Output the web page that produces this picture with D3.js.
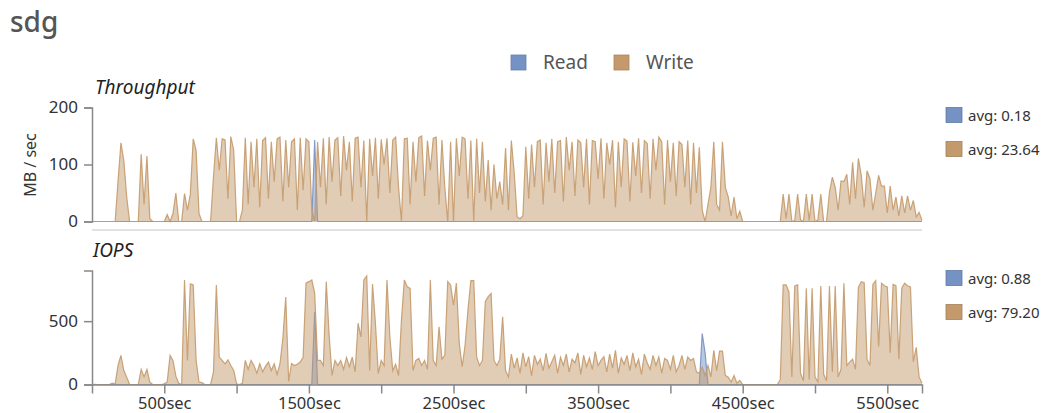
<!DOCTYPE html>
<html>
<head>
<meta charset="utf-8">
<script src="https://cdnjs.cloudflare.com/ajax/libs/d3/7.8.5/d3.min.js"></script>
<style>
	body { margin: 0; background: #fff; font-family: 'Noto Sans', sans-serif; }
	.tick text { fill: #333; }
	.tick line, .domain { stroke: #888; stroke-width: 1.5; }
</style>
</head>
<body>
<div class="chart"></div>
<script>
// one sample every 20 seconds, starting at 0sec
const sampleStep = 20

const writeThroughput = [
	0,0,0,0,0,0,0,0,0,
	70,138,107,43,0,
	0,0,0,
	118,30,115,5,
	0,0,0,0,0,
	12,0,14,50,0,0,
	49,20,48,145,125,14,0,
	0,0,0,
	78,147,90,145,143,40,149,125,0,0,
	20,
	147,30,140,60,145,25,142,147,40,140,
	70,145,148,35,143,60,140,145,20,147,
	55,145,140,20,0,140,60,146,30,148,
	70,143,147,45,150,90,140,35,146,148,
	60,142,0,145,80,147,40,144,100,146,
	50,143,148,60,0,145,146,30,140,70,
	147,150,45,142,90,146,148,30,143,60,
	0,140,0,146,80,148,145,40,142,0,
	145,50,140,35,108,20,100,40,70,30,
	129,20,142,85,8,5,10,131,40,135,
	60,140,143,30,138,70,145,50,140,142,
	35,148,90,140,45,143,138,60,145,30,
	142,140,75,146,40,138,100,143,25,140,
	60,145,141,35,139,80,146,50,142,137,
	40,145,90,148,140,30,143,70,138,45,
	140,135,60,142,30,138,50,130,20,0,
	30,60,140,30,20,140,60,43,10,43,5,18,
	0,0,0,0,0,0,0,0,0,0,0,0,0,
	0,48,5,48,0,2,48,3,0,48,2,48,0,3,48,0,0,
	51,78,60,20,71,70,83,30,104,40,111,81,25,89,75,20,50,
	81,62,62,15,62,20,43,10,45,15,45,20,37,8,16,2
]

const writeIops = [
	0,2,0,0,0,0,0,10,3,
	150,230,110,58,0,0,0,0,
	119,60,119,18,0,0,0,0,
	5,20,230,190,66,10,0,
	825,190,794,786,190,20,15,0,0,0,
	98,786,217,190,163,195,150,110,5,0,10,
	190,120,190,150,90,164,100,143,177,110,164,80,164,
	365,690,24,166,150,160,177,214,800,812,825,722,
	190,190,150,812,388,71,190,150,190,120,214,140,217,100,
	484,375,825,857,110,794,484,87,190,150,825,375,110,160,71,
	508,825,772,759,110,190,206,150,190,120,825,190,150,455,200,230,
	812,786,627,800,325,140,310,587,820,820,217,150,190,653,693,719,190,150,200,534,110,60,
	240,130,210,90,250,140,220,70,230,160,
	200,110,246,130,180,230,90,215,150,240,
	100,200,170,250,80,230,140,210,120,260,
	150,190,220,100,240,130,270,90,210,160,
	230,110,250,140,200,80,240,170,120,230,
	150,217,90,206,190,120,230,100,
	150,230,120,217,190,206,100,87,138,71,150,60,270,110,264,264,71,58,20,71,10,32,
	0,0,0,0,0,0,0,0,0,0,0,0,0,
	40,786,786,732,60,778,786,90,30,759,
	40,759,60,20,778,80,30,778,100,778,
	60,120,800,150,177,200,120,767,812,804,
	200,150,790,820,300,800,780,770,250,790,
	780,200,760,800,780,770,180,294,60,10
]

// read is idle almost all the time: [second, value]
const readThroughput = [[0, 0], [1520, 0], [1540, 143], [1560, 0], [5740, 0]]
const readIops = [[0, 0], [1520, 0], [1540, 575], [1560, 0], [4200, 0], [4220, 402], [4240, 250], [4260, 0], [5740, 0]]

const seriesNames = ['Read', 'Write']
const seriesColors = ['#7592c4', '#c49a6c']
const throughputAvg = ['avg: 0.18', 'avg: 23.64']
const iopsAvg = ['avg: 0.88', 'avg: 79.20']
const xTicks = [500, 1000, 1500, 2000, 2500, 3000, 3500, 4000, 4500, 5000, 5500]
const throughputTicks = [0, 100, 200]
const iopsTicks = [0, 500]

const width = 1048
const height = 413

const svg = d3.select('.chart')
	.append('svg')
	.attr('width', width)
	.attr('height', height)

const xScale = d3.scaleLinear()
	.domain([0, 5740])
	.range([92, 922])

const toPairs = (arr) => arr.map((v, i) => [i * sampleStep, v])

svg.append('text')
	.attr('x', 10)
	.attr('y', 32)
	.attr('font-size', 28)
	.attr('font-weight', 500)
	.attr('fill', '#555')
	.text('sdg')

// top legend
const legendX = [511, 614]
seriesNames.forEach((name, i) => {
	svg.append('rect')
		.attr('x', legendX[i])
		.attr('y', 55)
		.attr('width', 15)
		.attr('height', 15)
		.attr('fill', seriesColors[i])
		.attr('stroke', d3.color(seriesColors[i]).darker(0.4))
		.attr('stroke-width', 0.8)
	svg.append('text')
		.attr('x', legendX[i] + 32)
		.attr('y', 69)
		.attr('font-size', 19)
		.attr('fill', '#555')
		.text(name)
})

function drawPanel(opts) {
	const yScale = d3.scaleLinear()
		.domain(opts.domain)
		.range([opts.bottom, opts.top])

	const area = d3.area()
		.x(d => xScale(d[0]))
		.y0(yScale(0))
		.y1(d => yScale(d[1]))

	const line = d3.line()
		.x(d => xScale(d[0]))
		.y(d => yScale(d[1]))

	const series = [opts.read, toPairs(opts.write)]
	series.forEach((data, i) => {
		svg.append('path')
			.datum(data)
			.attr('d', area)
			.attr('fill', seriesColors[i])
			.attr('fill-opacity', 0.5)
		svg.append('path')
			.datum(data)
			.attr('d', line)
			.attr('fill', 'none')
			.attr('stroke', seriesColors[i])
			.attr('stroke-opacity', 0.9)
			.attr('stroke-width', 1.2)
	})

	svg.append('g')
		.attr('transform', 'translate(92,0)')
		.call(d3.axisLeft(yScale).tickValues(opts.ticks).tickSize(8).tickPadding(6))
		.attr('font-size', 17)
		.attr('font-family', null)

	svg.append('text')
		.attr('x', opts.titleX)
		.attr('y', opts.top - 14)
		.attr('font-size', 19)
		.attr('font-style', 'italic')
		.attr('fill', '#222')
		.text(opts.title)

	opts.avg.forEach((label, i) => {
		svg.append('rect')
			.attr('x', 946)
			.attr('y', opts.top + i * 34)
			.attr('width', 16)
			.attr('height', 15)
			.attr('fill', seriesColors[i])
			.attr('stroke', d3.color(seriesColors[i]).darker(0.5))
			.attr('stroke-width', 0.8)
		svg.append('text')
			.attr('x', 968)
			.attr('y', opts.top + 13 + i * 34)
			.attr('font-size', 15)
			.attr('fill', '#333')
			.text(label)
	})
	return yScale
}

drawPanel({
	top: 107.5, bottom: 221.5, domain: [0, 200], ticks: throughputTicks,
	read: readThroughput, write: writeThroughput,
	title: 'Throughput', titleX: 95, avg: throughputAvg
})

drawPanel({
	top: 270.5, bottom: 384.5, domain: [0, 900], ticks: iopsTicks,
	read: readIops, write: writeIops,
	title: 'IOPS', titleX: 93, avg: iopsAvg
})

// separator under the throughput panel
svg.append('line')
	.attr('x1', 92)
	.attr('x2', 922)
	.attr('y1', 230)
	.attr('y2', 230)
	.attr('stroke', '#e2e2e2')
	.attr('stroke-width', 2)

svg.append('text')
	.attr('transform', 'translate(36,165) rotate(-90)')
	.attr('text-anchor', 'middle')
	.attr('font-size', 16)
	.attr('fill', '#333')
	.text('MB / sec')

svg.append('g')
	.attr('transform', 'translate(0,384.5)')
	.call(d3.axisBottom(xScale)
		.tickValues(xTicks)
		.tickFormat(d => d % 1000 === 500 ? d + 'sec' : '')
		.tickSize(9)
		.tickPadding(4))
	.attr('font-size', 16.5)
	.attr('font-family', null)
</script>
</body>
</html>
